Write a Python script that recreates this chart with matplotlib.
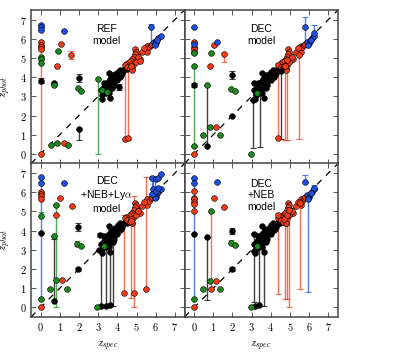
import matplotlib
matplotlib.use('Agg')
import matplotlib.pyplot as plt

plt.rcParams['mathtext.fontset'] = 'cm'

# colours for the four selections
c_black = '#000000'
c_red = '#f23c18'
c_blue = '#1f4fe0'
c_green = '#1c8a1c'

ticks = [0, 1, 2, 3, 4, 5, 6, 7]
tick_labels = ['$%d$' % t for t in ticks]

# points on the diagonal, the same in every panel (z_spec, z_phot)
black_core_zs = [3.13, 3.30, 3.44, 3.33, 3.50, 3.61, 3.68, 3.56, 3.82, 3.90, 4.03, 4.13,
                 4.20, 4.30, 4.38, 3.99, 3.73, 3.47, 3.39, 3.56, 3.82, 3.21, 3.78, 3.90,
                 4.16, 4.48, 4.77, 3.25, 3.40, 3.55, 3.65, 3.70, 3.95, 4.05, 4.25, 3.18, 3.64]
black_core_zp = [3.33, 3.47, 3.59, 3.71, 3.77, 3.89, 4.11, 4.23, 4.03, 4.16, 4.29, 4.38,
                 4.11, 4.33, 4.46, 3.85, 3.42, 3.33, 3.16, 3.16, 3.59, 3.07, 3.82, 3.94,
                 4.03, 4.40, 4.41, 3.20, 3.35, 3.45, 3.60, 3.55, 4.00, 4.10, 4.20, 2.86, 2.90]

red_core_zs = [4.91, 4.95, 4.91, 4.86, 4.77, 4.69, 4.60, 4.46, 4.39, 4.51, 4.64, 4.77, 5.03,
               5.17, 5.47, 5.55, 5.55, 5.64, 5.73, 5.30, 5.40, 4.82, 4.95, 4.70, 5.10, 5.80]
red_core_zp = [5.45, 5.33, 5.21, 5.07, 4.93, 4.86, 4.77, 4.71, 4.64, 4.55, 4.46, 4.38, 4.90,
               4.93, 5.42, 5.33, 5.63, 5.56, 5.68, 5.30, 5.50, 4.65, 4.80, 4.60, 5.05, 5.75]

blue_core_zs = [5.99, 5.90, 6.03, 6.13, 6.25, 5.95, 6.08]
blue_core_zp = [5.77, 5.85, 5.90, 6.02, 6.15, 5.68, 5.95]

# other points per model: (z_spec, z_phot, err_low, err_high)
ref_black = [(0.0, 3.82, 0.12, 0.12), (0.71, 3.71, 0.05, 0.05), (2.01, 3.94, 0.2, 0.22),
             (2.01, 1.32, 0.62, 0.0), (4.08, 3.50, 0.15, 0.15)]
ref_red = [(0.0, 0.02, 0.0, 5.4), (0.0, 5.85, 0, 0), (0.0, 5.68, 0, 0), (0.0, 5.56, 0, 0),
           (0.0, 5.45, 0, 0), (0.85, 4.58, 0, 0), (1.06, 5.71, 0, 0), (1.58, 5.16, 0.2, 0.2),
           (1.20, 0.58, 0, 0), (4.38, 0.77, 0.1, 3.9), (4.53, 0.85, 0.1, 3.85),
           (5.17, 4.85, 0.1, 0.1)]
ref_green = [(0.0, 5.07, 0, 0), (0.0, 4.93, 0, 0), (0.0, 4.72, 0, 0), (0.71, 3.60, 0, 0),
             (0.885, 5.38, 0, 0), (1.93, 3.42, 0, 0), (2.13, 3.30, 0, 0), (0.52, 0.47, 0, 0),
             (0.88, 0.55, 0, 0), (1.41, 0.47, 0, 0), (2.97, 3.90, 3.9, 0),
             (3.21, 3.33, 0, 0), (3.44, 3.25, 0, 0)]
ref_blue = [(0.0, 6.72, 0, 0), (0.0, 6.60, 0, 0), (0.0, 6.45, 0, 0), (1.23, 6.42, 0, 0),
            (5.78, 6.63, 0.85, 0.12)]

dec_black = [(0.0, 3.59, 0.12, 0.12), (0.69, 0.42, 0, 3.15), (1.98, 4.11, 0.2, 0.2),
             (1.98, 1.98, 0, 0), (3.09, 2.81, 2.5, 0), (3.43, 3.43, 3.07, 0),
             (3.12, 3.68, 0, 0), (4.52, 4.30, 3.5, 0)]
dec_red = [(0.0, 0.0, 0, 0), (0.0, 5.85, 0, 0), (0.0, 5.56, 0, 0), (0.0, 5.45, 0, 0),
           (0.0, 5.33, 0, 0), (0.82, 4.58, 0, 0), (1.02, 5.65, 0, 0), (1.56, 5.21, 0.4, 0.05),
           (1.15, 1.39, 0, 0), (4.38, 0.84, 0, 3.88), (4.72, 4.60, 3.9, 0),
           (4.86, 4.90, 4.15, 0), (5.47, 5.16, 4.36, 0)]
dec_green = [(0.0, 5.24, 0, 0), (0.0, 4.58, 4.16, 0), (0.0, 0.42, 0, 0), (0.69, 3.59, 0, 0),
             (0.90, 5.24, 0, 0), (1.91, 3.37, 0, 0), (2.12, 3.28, 0, 0), (0.46, 0.99, 0, 0),
             (0.84, 1.39, 0, 0), (1.36, 0.99, 0, 0), (2.95, 0.0, 0, 0), (3.30, 3.20, 0, 0)]
dec_blue = [(0.0, 6.63, 0, 0), (0.0, 5.71, 0, 0), (1.21, 5.82, 0, 0),
            (5.76, 6.63, 0.85, 0.52), (6.25, 6.30, 0.1, 0.42)]

lya_black = [(0.0, 3.89, 0, 0), (0.72, 0.33, 0, 3.25), (1.96, 4.19, 0.22, 0.22),
             (1.96, 1.98, 0.08, 0.08), (3.15, 0.05, 0, 3.2), (3.39, 0.07, 0, 3.5),
             (3.62, 0.10, 0, 3.6), (3.77, 3.40, 3.35, 0), (3.10, 3.79, 0.1, 0.1),
             (3.06, 3.00, 0, 0)]
lya_red = [(0.0, 0.0, 0, 0), (0.0, 6.01, 0, 0), (0.0, 5.89, 0, 0), (0.0, 5.80, 0, 0),
           (0.0, 5.63, 0, 0), (0.99, 5.71, 0, 0), (0.78, 4.79, 0, 0), (1.63, 5.31, 0, 0),
           (1.11, 1.42, 0, 0), (4.36, 0.73, 0, 4.1), (4.85, 0.73, 0.73, 5.07),
           (4.71, 4.50, 4.0, 0), (5.49, 0.94, 0, 5.87)]
lya_green = [(0.0, 4.76, 0, 0.2), (0.0, 0.42, 0, 0), (0.72, 3.72, 0, 0), (0.82, 5.33, 5.33, 0),
             (0.82, 1.42, 0, 0), (1.88, 3.32, 0.1, 0.15), (2.09, 3.20, 0, 0), (0.49, 0.97, 0, 0),
             (1.38, 0.97, 0, 0), (2.94, 0.02, 0, 0), (3.30, 3.20, 0, 0)]
lya_blue = [(0.0, 6.81, 0, 0), (0.0, 6.46, 6.04, 0), (1.20, 6.46, 0, 0),
            (5.82, 6.76, 0, 0.1), (5.99, 6.70, 0, 0), (6.13, 6.76, 0, 0), (6.27, 6.93, 0, 0),
            (5.87, 6.15, 0, 0.6), (5.95, 5.98, 0, 0.7), (5.82, 5.89, 0, 0.8),
            (6.04, 6.06, 0, 0), (6.13, 6.23, 0, 0)]

neb_black = [(0.0, 3.84, 0, 0), (0.69, 3.68, 3.3, 0), (1.98, 3.98, 0.15, 0.15),
             (1.98, 1.98, 0.1, 0.1), (3.12, 3.84, 3.55, 0), (3.12, 2.94, 0, 0),
             (3.16, 0.05, 0, 0), (3.38, 0.15, 0, 3.3), (3.66, 3.90, 3.85, 0)]
neb_red = [(0.0, 0.0, 0, 0), (0.0, 6.06, 0, 0), (0.0, 5.71, 0, 0), (0.0, 5.63, 0, 0),
           (0.0, 5.49, 0, 0), (0.0, 5.37, 0, 0), (0.0, 5.02, 0, 0), (0.86, 0.97, 0, 4.0),
           (1.02, 5.71, 0, 0), (1.56, 5.24, 0, 0), (1.15, 1.37, 0, 0),
           (4.37, 4.84, 4.15, 0.1), (4.72, 4.93, 4.48, 0), (4.84, 4.80, 4.38, 0),
           (4.94, 5.10, 5.1, 0), (5.50, 5.45, 4.5, 0.1)]
neb_green = [(0.0, 0.42, 0, 0), (0.81, 1.37, 0, 0), (0.90, 5.02, 0, 0), (1.91, 3.37, 0, 0.15),
             (2.12, 3.25, 0, 0), (0.46, 0.97, 0, 0), (1.36, 0.97, 0, 0), (2.95, 0.0, 0, 0),
             (3.30, 3.20, 0, 0)]
neb_blue = [(0.0, 6.76, 0, 0), (0.0, 6.49, 6.07, 0), (1.20, 6.55, 0, 0),
            (5.76, 6.53, 0, 0.35), (5.95, 5.63, 4.83, 0), (6.25, 6.20, 0, 0.2)]

panels = [
    ('REF\nmodel', [ref_black, ref_red, ref_green, ref_blue]),
    ('DEC\nmodel', [dec_black, dec_red, dec_green, dec_blue]),
    ('DEC\n+NEB+Ly$\\alpha$\nmodel', [lya_black, lya_red, lya_green, lya_blue]),
    ('DEC\n+NEB\nmodel', [neb_black, neb_red, neb_green, neb_blue]),
]
colors = [c_black, c_red, c_green, c_blue]
msize = 17

fig = plt.figure(figsize=(4.12, 3.53), dpi=100)
W, H = 412.0, 353.0
x0, y1, pw, ph = 31, 10, 153.5, 153.5
positions = [
    [x0 / W, 1 - (y1 + ph) / H, pw / W, ph / H],
    [(x0 + pw) / W, 1 - (y1 + ph) / H, pw / W, ph / H],
    [x0 / W, 1 - (y1 + 2 * ph) / H, pw / W, ph / H],
    [(x0 + pw) / W, 1 - (y1 + 2 * ph) / H, pw / W, ph / H],
]

for i, (label, groups) in enumerate(panels):
    ax = fig.add_axes(positions[i])
    ax.set_xlim(-0.5, 7.5)
    ax.set_ylim(-0.5, 7.5)
    ax.plot([-0.5, 7.5], [-0.5, 7.5], color='k', lw=0.9, dashes=(5, 5), zorder=1)

    ax.scatter(black_core_zs, black_core_zp, s=msize, c=c_black, edgecolors='k',
               linewidths=0.4, zorder=4)
    ax.scatter(red_core_zs, red_core_zp, s=msize, c=c_red, edgecolors='k',
               linewidths=0.4, zorder=4)
    ax.scatter(blue_core_zs, blue_core_zp, s=msize, c=c_blue, edgecolors='k',
               linewidths=0.4, zorder=4)

    for pts, col in zip(groups, colors):
        zs = [p[0] for p in pts]
        zp = [p[1] for p in pts]
        err = [[p[2] for p in pts], [p[3] for p in pts]]
        ax.errorbar(zs, zp, yerr=err, fmt='none', ecolor=col, elinewidth=1.0,
                    capsize=2, capthick=0.8, alpha=0.75, zorder=2)
        ax.scatter(zs, zp, s=msize, c=col, edgecolors='k', linewidths=0.4, zorder=5)

    ax.text(3.5 if i % 2 else 3.45, 6.2 if i < 2 else 5.85, label, ha='center', va='center',
            fontsize=7.5, family='Liberation Sans', linespacing=1.2)

    ax.set_xticks(ticks)
    ax.set_yticks(ticks)
    ax.tick_params(direction='in', top=True, right=True, length=3.5, width=0.7,
                   color='#555555', labelsize=7.5, pad=3)
    if i >= 2:
        ax.set_xticklabels(tick_labels)
        ax.set_xlabel('$z_{spec}$', fontsize=8)
        ax.xaxis.set_label_coords(0.5, -0.145)
    else:
        ax.set_xticklabels([])
    if i % 2 == 0:
        ax.set_yticklabels(tick_labels)
        ax.set_ylabel('$z_{phot}$', fontsize=8)
        ax.yaxis.set_label_coords(-0.115, 0.5)
    else:
        ax.set_yticklabels([])
    for sp in ax.spines.values():
        sp.set_color('#444444')
        sp.set_linewidth(1.1)

plt.savefig('out.png', dpi=100)
